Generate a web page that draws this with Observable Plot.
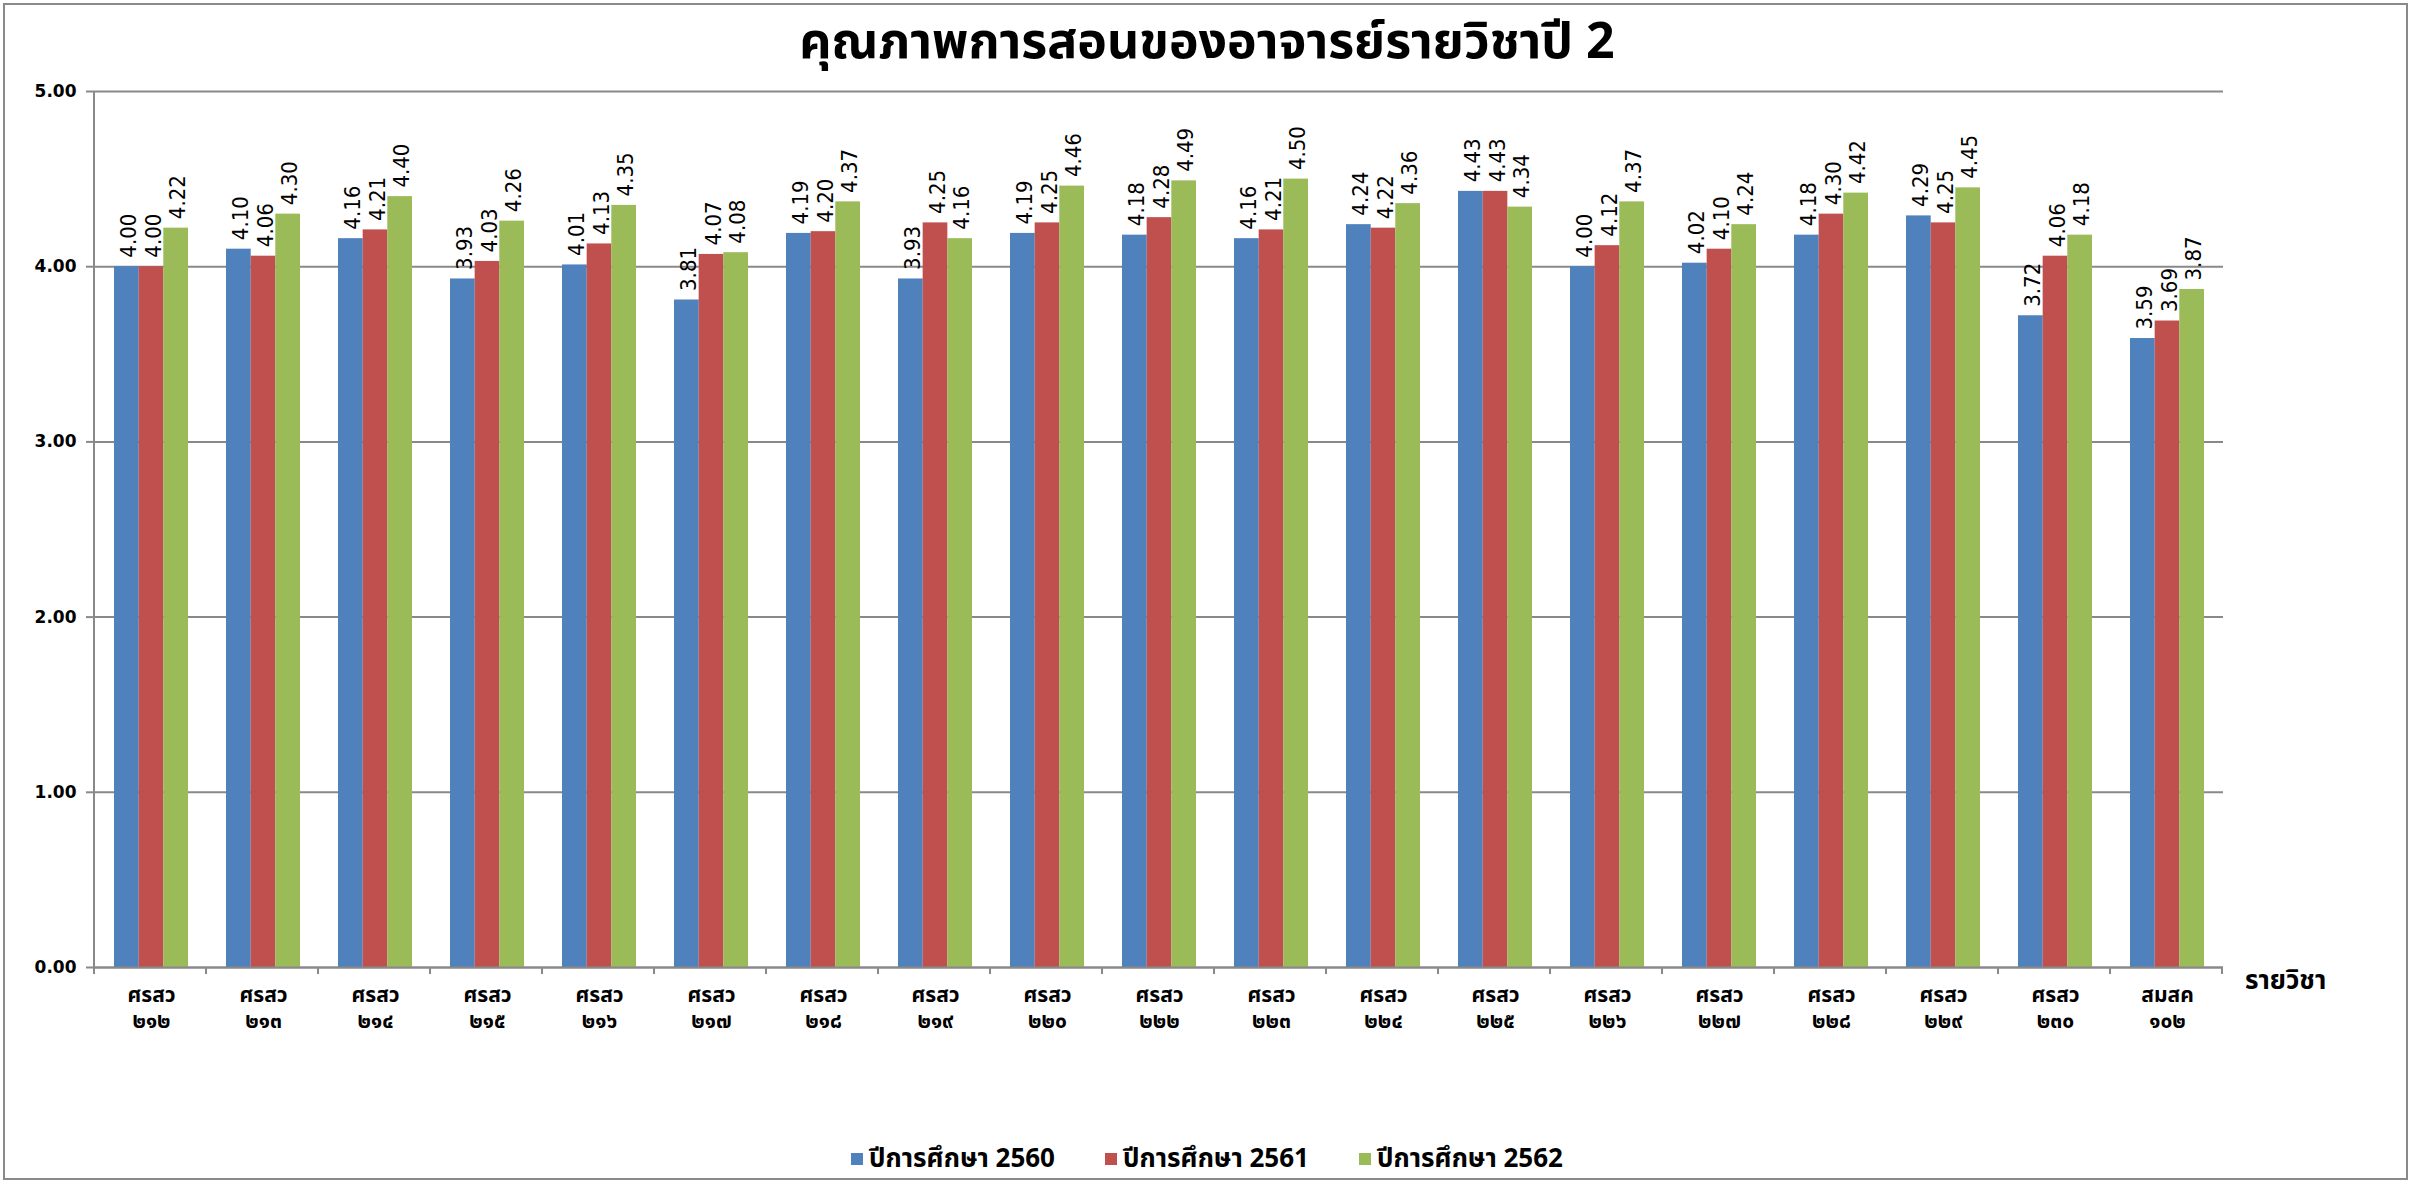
<!DOCTYPE html>
<html><head><meta charset="utf-8">
<script src="https://cdn.jsdelivr.net/npm/d3@7"></script>
<script src="https://cdn.jsdelivr.net/npm/@observablehq/plot@0.6"></script>
<style>
body{margin:0;background:#fff;}
#wrap{position:relative;width:2414px;height:1184px;overflow:hidden;font-family:"Noto Sans Thai","Noto Sans","DejaVu Sans",sans-serif;color:#000;}
#border{position:absolute;left:3px;top:3px;width:2401px;height:1173px;border:2px solid #8a8a8a;}
#title{position:absolute;left:0;width:2414px;top:9px;text-align:center;font-weight:bold;font-size:50px;line-height:68px;}
#chart{position:absolute;left:0;top:60px;}
#xlabel{position:absolute;left:2245px;top:961px;font-weight:bold;font-size:26px;line-height:40px;}
#legend{position:absolute;top:1140px;left:0;width:2414px;display:flex;justify-content:center;gap:50px;font-weight:bold;font-size:26px;line-height:38px;}
#legend .item{display:flex;align-items:center;gap:6px;}
#legend .sw{width:12px;height:12px;display:inline-block;}
</style></head>
<body>
<div id="wrap">
  <div id="border"></div>
  <div id="title"></div>
  <div id="chart"></div>
  <div id="xlabel"></div>
  <div id="legend"></div>
</div>
<script>
const chartTitle = "คุณภาพการสอนของอาจารย์รายวิชาปี 2";
const xAxisTitle = "รายวิชา";
const subjects = ["ศรสว ๒๑๒","ศรสว ๒๑๓","ศรสว ๒๑๔","ศรสว ๒๑๕","ศรสว ๒๑๖","ศรสว ๒๑๗","ศรสว ๒๑๘","ศรสว ๒๑๙","ศรสว ๒๒๐","ศรสว ๒๒๒","ศรสว ๒๒๓","ศรสว ๒๒๔","ศรสว ๒๒๕","ศรสว ๒๒๖","ศรสว ๒๒๗","ศรสว ๒๒๘","ศรสว ๒๒๙","ศรสว ๒๓๐","สมสค ๑๐๒"];
const seriesNames = ["ปีการศึกษา 2560","ปีการศึกษา 2561","ปีการศึกษา 2562"];
const values2560 = [4.00,4.10,4.16,3.93,4.01,3.81,4.19,3.93,4.19,4.18,4.16,4.24,4.43,4.00,4.02,4.18,4.29,3.72,3.59];
const values2561 = [4.00,4.06,4.21,4.03,4.13,4.07,4.20,4.25,4.25,4.28,4.21,4.22,4.43,4.12,4.10,4.30,4.25,4.06,3.69];
const values2562 = [4.22,4.30,4.40,4.26,4.35,4.08,4.37,4.16,4.46,4.49,4.50,4.36,4.34,4.37,4.24,4.42,4.45,4.18,3.87];
const seriesColors = ["#4F81BD","#C0504D","#9BBB59"];
const yTicks = [0,1,2,3,4,5];

const allSeries = [values2560, values2561, values2562];
const fmt = d3.format(".2f");

const W = 2414, H = 1000, ML = 94, MR = 191, MT = 31, MB = 93;
const PAD = 0.34;
const step = (W - ML - MR) / subjects.length;
const bw = step * (1 - PAD) / 3;
const gray = "#898989";

const marks = [Plot.ruleY(yTicks, {stroke: gray, strokeWidth: 2})];
allSeries.forEach((vals, k) => {
  const rows = subjects.map((s, i) => ({subject: s, value: vals[i], series: seriesNames[k]}));
  marks.push(Plot.barY(rows, {
    x: "subject", y1: 0, y2: "value", fill: seriesColors[k],
    insetLeft: k * bw, insetRight: (2 - k) * bw
  }));
});
allSeries.forEach((vals, k) => {
  const rows = subjects.map((s, i) => ({subject: s, value: vals[i]}));
  marks.push(Plot.text(rows, {
    x: "subject", y: "value", text: d => fmt(d.value),
    rotate: -90, textAnchor: "start", lineAnchor: "middle",
    dx: (k - 1) * bw + 2, dy: -9,
    fontSize: 22, fontFamily: "DejaVu Sans Condensed, DejaVu Sans", fill: "#000"
  }));
});
marks.push(Plot.ruleY([0], {stroke: gray, strokeWidth: 2}));
marks.push(Plot.axisY({ticks: yTicks, tickFormat: ".2f", tickSize: 8, tickPadding: 10,
  fontSize: 17, fontWeight: "bold", fontFamily: "DejaVu Sans", label: null}));
marks.push(Plot.axisX({tickSize: 0, tickPadding: 16, fontSize: 21, fontWeight: "bold",
  tickFormat: d => d.replace(" ", "\n"), lineHeight: 1.25, label: null}));

const plot = Plot.plot({
  width: W, height: H,
  marginLeft: ML, marginRight: MR, marginTop: MT, marginBottom: MB,
  style: {fontFamily: '"Noto Sans Thai","Noto Sans","DejaVu Sans",sans-serif', background: "transparent", color: "#000"},
  x: {type: "band", domain: subjects, padding: PAD, paddingOuter: PAD / 2, align: 0.5, axis: null},
  y: {domain: [0, 5], axis: null},
  marks
});
document.getElementById("chart").appendChild(plot);

// axis lines and category boundary ticks
const xs = plot.scale("x"), ys = plot.scale("y");
const svg = d3.select(plot);
const y0 = ys.range[0], yTop = ys.range[1];
const x0 = xs.range[0];
svg.selectAll('g[aria-label="y-axis tick"]').attr("stroke", gray).attr("stroke-width", 2);
const g = svg.append("g").attr("stroke", gray).attr("stroke-width", 2);
g.append("line").attr("x1", x0).attr("x2", x0).attr("y1", yTop).attr("y2", y0 + 7);
for (let i = 0; i <= subjects.length; i++) {
  const xb = x0 + i * xs.step;
  g.append("line").attr("x1", xb).attr("x2", xb).attr("y1", y0).attr("y2", y0 + 7);
}

document.getElementById("title").textContent = chartTitle;
document.getElementById("xlabel").textContent = xAxisTitle;
const legend = document.getElementById("legend");
seriesNames.forEach((n, k) => {
  const it = document.createElement("div"); it.className = "item";
  const sw = document.createElement("span"); sw.className = "sw"; sw.style.background = seriesColors[k];
  const tx = document.createElement("span"); tx.textContent = n;
  it.appendChild(sw); it.appendChild(tx); legend.appendChild(it);
});
</script>
</body></html>
